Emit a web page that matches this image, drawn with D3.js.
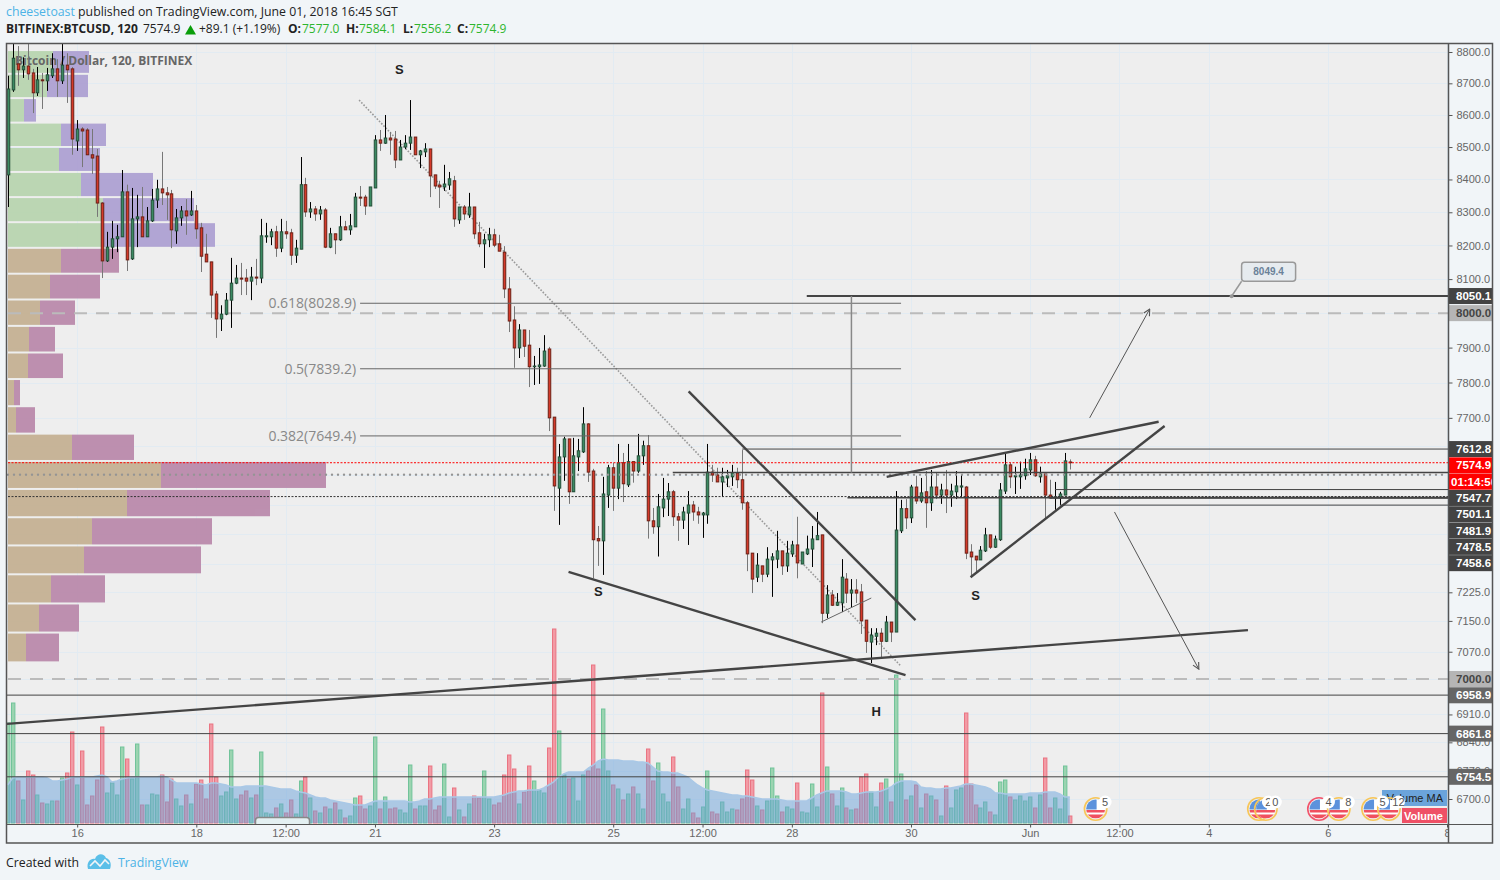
<!DOCTYPE html>
<html>
<head>
<meta charset="utf-8">
<title>BTCUSD</title>
<script src="https://cdn.jsdelivr.net/npm/d3@7"></script>
<style>
  html, body { margin: 0; padding: 0; background: #f1f5f8; }
  svg { display: block; }
  text { font-family: "Liberation Sans", Arial, sans-serif; }
  .head text, .foot text { font-family: "Open Sans", sans-serif; font-size: 12px; }
  .head .top, .foot text { font-size: 12.3px; }
  .axis path { display: none; }
  .axis line { stroke: #555; }
  .axis text { fill: #666; font-size: 11px; }
</style>
</head>
<body>
<svg width="1500" height="880"></svg>
<script>
// two hour candles, first one is May 14 20:00
var opens = [8414,8679,8762,8743,8755,8733,8670,8711,8708,8724,
  8746,8708,8758,8746,8519,8556,8553,8476,8472,8328,
  8154,8195,8220,8226,8362,8160,8280,8286,8226,8274,
  8337,8371,8359,8356,8244,8283,8304,8292,8304,8253,
  8174,8151,8056,7983,7997,8038,8088,8103,8103,8094,
  8106,8103,8226,8226,8241,8192,8241,8238,8171,8189,
  8384,8301,8310,8295,8307,8195,8235,8217,8256,8247,
  8256,8346,8346,8319,8374,8522,8512,8528,8525,8460,
  8500,8512,8531,8476,8485,8494,8414,8383,8377,8383,
  8396,8277,8316,8292,8316,8238,8205,8217,8232,8205,
  8180,8071,7980,7899,7951,7907,7845,7845,7847,7896,
  7702,7505,7591,7641,7495,7591,7605,7683,7552,7368,
  7362,7486,7561,7505,7575,7514,7578,7552,7594,7622,
  7416,7400,7451,7475,7495,7427,7418,7437,7459,7440,
  7432,7432,7549,7541,7522,7533,7536,7547,7528,7465,
  7329,7265,7295,7273,7311,7313,7335,7295,7327,7351,
  7300,7327,7340,7365,7378,7170,7218,7191,7197,7260,
  7223,7231,7226,7152,7095,7110,7118,7097,7147,7121,
  7389,7449,7424,7508,7470,7495,7465,7508,7486,7500,
  7486,7495,7508,7508,7332,7321,7311,7335,7378,7345,
  7365,7497,7569,7536,7536,7539,7555,7583,7536,7544,
  7486,7478,7478,7486,7577];
var closes = [8682,8780,8743,8755,8730,8670,8711,8708,8727,8746,
  8708,8758,8743,8525,8556,8550,8476,8466,8328,8154,
  8195,8220,8226,8362,8157,8280,8286,8226,8274,8337,
  8371,8359,8353,8247,8283,8304,8289,8304,8250,8168,
  8151,8053,7983,7997,8038,8088,8103,8100,8094,8106,
  8103,8229,8229,8241,8192,8241,8235,8171,8192,8384,
  8301,8310,8295,8307,8195,8235,8217,8256,8247,8259,
  8346,8343,8319,8377,8522,8512,8528,8522,8460,8500,
  8512,8531,8476,8488,8494,8411,8380,8377,8386,8402,
  8280,8316,8295,8316,8235,8205,8217,8232,8201,8183,
  8071,7977,7899,7951,7904,7845,7847,7850,7890,7700,
  7511,7591,7641,7495,7594,7608,7683,7549,7365,7362,
  7489,7561,7505,7575,7517,7578,7552,7594,7622,7416,
  7400,7454,7475,7495,7427,7418,7440,7459,7440,7432,
  7437,7549,7541,7522,7536,7539,7547,7528,7465,7327,
  7260,7297,7273,7313,7319,7335,7295,7329,7351,7303,
  7332,7340,7367,7376,7170,7218,7191,7199,7265,7223,
  7231,7223,7150,7097,7113,7118,7097,7147,7121,7391,
  7449,7424,7508,7470,7492,7465,7508,7486,7500,7486,
  7497,7511,7511,7329,7319,7311,7337,7378,7345,7367,
  7500,7569,7536,7539,7541,7558,7583,7539,7544,7486,
  7478,7481,7489,7580,7574.9];
var highs = [8724,8826,8819,8783,8826,8746,8752,8733,8749,8796,
  8777,8826,8796,8752,8584,8562,8559,8556,8494,8331,
  8241,8274,8262,8429,8384,8374,8353,8377,8316,8371,
  8399,8485,8377,8368,8310,8319,8340,8365,8322,8268,
  8235,8151,8065,8023,8059,8163,8142,8148,8130,8136,
  8160,8280,8268,8250,8259,8280,8274,8250,8217,8469,
  8405,8331,8319,8319,8313,8253,8235,8289,8274,8295,
  8359,8380,8353,8377,8537,8553,8600,8547,8550,8522,
  8537,8647,8531,8491,8512,8494,8414,8396,8445,8423,
  8411,8316,8322,8359,8316,8271,8235,8253,8250,8232,
  8198,8106,8020,7968,7951,7951,7876,7899,7936,7902,
  7702,7627,7647,7641,7644,7641,7730,7685,7558,7402,
  7536,7569,7575,7627,7602,7627,7578,7655,7636,7652,
  7451,7489,7533,7519,7500,7437,7454,7497,7470,7454,
  7440,7627,7569,7561,7561,7555,7569,7561,7610,7470,
  7329,7329,7295,7345,7329,7389,7335,7362,7362,7427,
  7332,7376,7402,7440,7378,7244,7231,7223,7313,7276,
  7260,7260,7247,7152,7131,7131,7131,7163,7147,7497,
  7473,7475,7514,7539,7533,7552,7555,7549,7517,7555,
  7517,7552,7541,7511,7353,7321,7348,7397,7378,7376,
  7519,7599,7575,7564,7578,7586,7602,7594,7564,7544,
  7528,7522,7495,7602,7584.1];
var lows = [8316,8673,8692,8717,8711,8606,8660,8619,8676,8717,
  8657,8698,8638,8476,8488,8438,8476,8417,8286,8103,
  8151,8160,8180,8226,8124,8157,8195,8226,8226,8271,
  8313,8322,8277,8192,8205,8259,8232,8289,8220,8121,
  8151,7986,7928,7948,7994,7957,8085,8053,8053,8038,
  8082,8088,8208,8201,8166,8180,8220,8142,8148,8189,
  8286,8283,8274,8277,8192,8192,8174,8214,8247,8232,
  8256,8319,8292,8319,8374,8488,8510,8476,8435,8460,
  8494,8491,8476,8435,8469,8346,8371,8313,8365,8368,
  8256,8265,8277,8283,8220,8195,8133,8195,8195,8183,
  8044,7945,7842,7870,7873,7787,7793,7796,7845,7663,
  7443,7405,7525,7462,7495,7552,7602,7522,7262,7295,
  7271,7451,7443,7475,7467,7508,7520,7547,7569,7368,
  7381,7320,7426,7429,7402,7362,7394,7351,7416,7408,
  7370,7408,7522,7522,7481,7508,7511,7505,7446,7281,
  7223,7252,7252,7265,7213,7289,7271,7279,7319,7262,
  7300,7324,7292,7365,7144,7157,7189,7189,7173,7197,
  7186,7197,7116,7067,7041,7087,7054,7095,7095,7121,
  7383,7394,7410,7462,7465,7397,7443,7475,7462,7437,
  7454,7475,7481,7313,7268,7279,7311,7332,7340,7343,
  7362,7489,7505,7489,7503,7528,7541,7536,7520,7421,
  7478,7446,7459,7486,7556.2];
var volumes = [100,120,42,23,52,48,28,20,19,22,
  22,45,50,91,38,72,18,27,43,96,
  30,40,28,76,64,44,79,18,18,29,
  28,48,21,44,24,17,28,19,39,43,
  24,99,46,27,31,73,24,28,32,25,
  28,71,10,9,15,19,10,23,9,42,
  46,25,12,10,16,14,20,13,5,7,
  25,27,14,17,86,14,26,14,15,13,
  10,58,14,17,17,57,13,17,59,6,
  35,13,6,19,27,25,52,24,18,20,
  48,68,54,19,31,57,42,33,30,75,
  194,92,48,44,45,22,48,52,158,54,
  114,52,38,34,23,29,36,29,14,74,
  42,60,29,21,66,36,14,24,10,5,
  16,52,11,9,21,11,14,13,24,53,
  43,17,13,22,55,27,11,16,14,40,
  11,10,39,16,130,56,29,17,35,15,
  13,14,46,49,31,16,40,44,21,148,
  49,23,27,38,15,29,27,23,7,37,
  15,33,35,110,39,18,15,21,11,8,
  41,43,26,23,27,22,26,15,28,65,
  15,25,14,57,7];
var volumeMA = [38,45,46,46,46,46,46,46,45,42,
  42,43,44,46,46,46,46,46,47,48,
  46,41,42,44,45,46,46,46,46,46,
  46,47,46,43,40,40,40,40,40,39,
  38,40,40,39,38,36,36,36,37,37,
  37,37,37,36,35,34,34,34,32,31,
  30,28,26,25,25,23,22,21,20,19,
  18,18,18,20,22,22,22,22,22,22,
  22,21,21,22,24,24,25,26,26,26,
  26,26,26,26,26,26,26,26,26,27,
  28,30,31,32,32,33,33,33,35,38,
  41,46,49,51,51,51,51,55,58,62,
  64,63,63,63,62,62,62,61,61,60,
  56,52,51,51,50,50,48,46,42,38,
  35,33,32,31,30,29,28,28,27,27,
  26,25,24,24,24,24,23,22,22,22,
  22,22,25,28,30,32,32,32,32,31,
  29,29,30,31,31,31,32,34,36,40,
  42,42,42,41,36,35,35,34,34,35,
  35,36,37,39,39,38,37,36,34,30,
  30,29,29,29,29,29,30,30,30,31,
  31,31,29,26,26];

// volume profile rows on the left
var profileLevels = [8803,8727,8650,8573,8497,8420,8343,8267,8190,8113,8037,7960,
  7883,7807,7730,7653,7577,7500,7423,7347,7270,7193,7117,7040];
var profileUp = [45,39,16,53,51,73,95,93,53,42,32,21,20,6,8,64,153,119,84,76,43,31,18];
var profileTotal = [81,80,28,98,92,145,186,207,111,92,67,47,55,12,27,126,318,262,204,193,97,71,51];

var priceTicks = [8800,8700,8600,8500,8400,8300,8200,8100,8000,7900,7800,7700,7620,7540,
  7460,7380,7300,7225,7150,7070,7000,6910,6840,6770,6700];
// these sit fully under the price tags in the picture
var coveredTicks = [7620,7540,7460,7380,7300,7000,8000];
var timeTicks = [Date.UTC(2018,4,16),Date.UTC(2018,4,18),Date.UTC(2018,4,19,12),Date.UTC(2018,4,21),
  Date.UTC(2018,4,23),Date.UTC(2018,4,25),Date.UTC(2018,4,26,12),Date.UTC(2018,4,28),Date.UTC(2018,4,30),
  Date.UTC(2018,5,1),Date.UTC(2018,5,2,12),Date.UTC(2018,5,4),Date.UTC(2018,5,6),Date.UTC(2018,5,8)];
var timeLabels = ['16','18','12:00','21','23','25','12:00','28','30','Jun','12:00','4','6','8'];

// drawn lines: [from candle, from price, to candle, to price]
var trendLines = [
  [-0.3,6886,249.9,7126],
  [137.2,7775,182.9,7152],
  [113,7279,180.9,7010],
  [177.1,7536,231.9,7689],
  [194,7265,233.1,7677]
];
var thinTrend = [163.9,7147,174,7210];
var dottedTrend = [70.8,8647,179.9,7034];
var arrowLines = [
  [218,7700,230.1,8012],
  [223,7440,240,7025]
];
var fibLevels = [0.618,0.5,0.382];
var fibPrices = [8028.9,7839.2,7649.4];
var fibFrom = 71, fibTo = 180;

// horizontal lines: [from candle, price, width]
var levelLines = [
  [161,8050.1,2],
  [148,7612.8,1],
  [134,7547.7,1.5],
  [211,7501.1,1],
  [169.2,7478.5,1.5],
  [210,7478.5,2],
  [212,7458.6,1],
  [-1,6958.9,1],
  [-1,6861.8,1],
  [-1,6754.5,1]
];
var marks = [[78.9,8730,'S'],[119,7214,'S'],[195,7205,'S'],[175,6905,'H']];

var eventCandles = [219.2,252.1,253.5,264.2,268.2,275.1,278.3];
var eventCounts = ['5','2','0','4','8','5','12'];
var eventAlert = [false,false,false,true,false,false,false];

var tags = [
  {value:8050.1, bg:'#434343', fg:'#fff'},
  {value:8000.0, bg:'#b5b5b5', fg:'#444'},
  {value:7612.8, bg:'#434343', fg:'#fff'},
  {value:7574.9, bg:'#f00', fg:'#fff'},
  {value:7574.9, bg:'#f00', fg:'#fff', text:'01:14:50'},
  {value:7547.7, bg:'#434343', fg:'#fff'},
  {value:7501.1, bg:'#434343', fg:'#fff'},
  {value:7481.9, bg:'#434343', fg:'#fff'},
  {value:7478.5, bg:'#434343', fg:'#fff'},
  {value:7458.6, bg:'#434343', fg:'#fff'},
  {value:7000.0, bg:'#b5b5b5', fg:'#444'},
  {value:6958.9, bg:'#666', fg:'#fff'},
  {value:6861.8, bg:'#666', fg:'#fff'},
  {value:6754.5, bg:'#666', fg:'#fff'}
];

var HOUR = 3600000;
var firstCandle = Date.UTC(2018,4,14,20);
function candleTime(i) { return new Date(firstCandle + i * 2 * HOUR); }

var paneLeft = 7, paneRight = 1448, paneTop = 44, paneBottom = 824;

var x = d3.scaleUtc().domain([candleTime(0), new Date(Date.UTC(2018,5,8))]).range([7.7, 1447]);
var y = d3.scaleLog().domain([8800, 6700]).range([52, 799]);
var volY = d3.scaleLinear().domain([0, 194]).range([823, 629]);
var profileX = d3.scaleLinear().domain([0, 318]).range([8, 326]);

var cx = function (i) { return x(candleTime(i)); };

var candles = opens.map(function (o, i) {
  return {i: i, o: o, c: closes[i], h: highs[i], l: lows[i], v: volumes[i], ma: volumeMA[i]};
});

var svg = d3.select('svg');
var defs = svg.append('defs');
defs.append('clipPath').attr('id', 'pane').append('rect')
  .attr('x', paneLeft).attr('y', paneTop).attr('width', paneRight - paneLeft).attr('height', paneBottom - paneTop);
defs.append('clipPath').attr('id', 'timeclip').append('rect')
  .attr('x', paneLeft).attr('y', paneBottom).attr('width', paneRight - paneLeft).attr('height', 20);
defs.append('clipPath').attr('id', 'tagclip').append('rect')
  .attr('x', 1449).attr('y', paneTop).attr('width', 44).attr('height', 800);
defs.append('clipPath').attr('id', 'flag').append('circle').attr('r', 9.5);

// pane background
svg.append('rect').attr('x', paneLeft).attr('y', paneTop)
  .attr('width', paneRight - paneLeft).attr('height', paneBottom - paneTop).attr('fill', '#eeeeee');

var pane = svg.append('g').attr('clip-path', 'url(#pane)');

// grid
pane.append('g').selectAll('line').data(timeTicks).enter().append('line')
  .attr('x1', function (d) { return Math.round(x(d)) + 0.5; })
  .attr('x2', function (d) { return Math.round(x(d)) + 0.5; })
  .attr('y1', paneTop).attr('y2', paneBottom)
  .attr('stroke', '#e2ebf2');
pane.append('g').selectAll('line').data(priceTicks).enter().append('line')
  .attr('y1', function (d) { return Math.round(y(d)) + 0.5; })
  .attr('y2', function (d) { return Math.round(y(d)) + 0.5; })
  .attr('x1', paneLeft).attr('x2', paneRight)
  .attr('stroke', '#e2ebf2');

// volume profile
var rows = profileUp.map(function (u, k) {
  return {top: profileLevels[k], bottom: profileLevels[k + 1], up: u, total: profileTotal[k], k: k};
});
var rowGroup = pane.append('g').attr('opacity', 0.92);
rowGroup.selectAll('.total').data(rows).enter().append('rect')
  .attr('x', function (d) { return profileX(d.up); })
  .attr('width', function (d) { return profileX(d.total) - profileX(d.up); })
  .attr('y', function (d) { return y(d.top); })
  .attr('height', function (d) { return y(d.bottom) - y(d.top) - 2; })
  .attr('fill', function (d) { return d.k < 8 ? '#ac9fd2' : '#b988aa'; });
rowGroup.selectAll('.up').data(rows).enter().append('rect')
  .attr('x', profileX(0))
  .attr('width', function (d) { return profileX(d.up) - profileX(0); })
  .attr('y', function (d) { return y(d.top); })
  .attr('height', function (d) { return y(d.bottom) - y(d.top) - 2; })
  .attr('fill', function (d) { return d.k < 8 ? '#b7d5ae' : '#c4b091'; });

// pane title
pane.append('text').attr('x', 15).attr('y', 65)
  .attr('font-size', 12).attr('font-weight', 'bold').attr('fill', '#666')
  .attr('style', 'font-family:"Open Sans",sans-serif')
  .text('Bitcoin / Dollar, 120, BITFINEX');

// volume bars, the MA area goes over them
pane.append('g').selectAll('rect').data(candles).enter().append('rect')
  .attr('x', function (d) { return Math.round(cx(d.i)) - 1.5; })
  .attr('width', 3.4)
  .attr('y', function (d) { return volY(d.v); })
  .attr('height', function (d) { return volY(0) - volY(d.v); })
  .attr('fill', function (d) { return d.c >= d.o ? '#9bd4b0' : '#f29ba5'; })
  .attr('stroke', function (d) { return d.c >= d.o ? '#71c39a' : '#ea7482'; });

var maArea = d3.area()
  .x(function (d) { return cx(d.i); })
  .y0(volY(0))
  .y1(function (d) { return volY(d.ma); });
pane.append('path').datum(candles).attr('d', maArea)
  .attr('fill', 'rgb(106,162,218)').attr('fill-opacity', 0.5);
pane.append('path').datum(candles)
  .attr('d', d3.line().x(function (d) { return cx(d.i); }).y(function (d) { return volY(d.ma); }))
  .attr('fill', 'none').attr('stroke', '#a9c8e6').attr('stroke-width', 1.5);

// little time box under the volume
pane.append('rect').attr('x', 255.5).attr('y', 817.5).attr('width', 54).attr('height', 12).attr('rx', 3)
  .attr('fill', '#e4f0f2').attr('stroke', '#888').attr('stroke-width', 1.5);

// dashed round numbers
pane.append('g').selectAll('line').data([8000, 7000]).enter().append('line')
  .attr('x1', 8).attr('x2', paneRight)
  .attr('y1', function (d) { return y(d); }).attr('y2', function (d) { return y(d); })
  .attr('stroke', '#bbb').attr('stroke-width', 2).attr('stroke-dasharray', '13 9');

// dotted line under the candles
pane.append('line')
  .attr('x1', cx(dottedTrend[0])).attr('y1', y(dottedTrend[1]))
  .attr('x2', cx(dottedTrend[2])).attr('y2', y(dottedTrend[3]))
  .attr('stroke', '#999').attr('stroke-width', 1.6).attr('stroke-dasharray', '1.6 1.6');

// candles
var candle = pane.append('g').selectAll('g').data(candles).enter().append('g');
candle.append('line')
  .attr('x1', function (d) { return Math.round(cx(d.i)) + 0.5; })
  .attr('x2', function (d) { return Math.round(cx(d.i)) + 0.5; })
  .attr('y1', function (d) { return y(d.h); })
  .attr('y2', function (d) { return y(d.l); })
  .attr('stroke', function (d) { return d.c >= d.o ? '#000' : '#777'; });
candle.append('rect')
  .attr('x', function (d) { return Math.round(cx(d.i)) - 0.75; })
  .attr('width', 2.5)
  .attr('y', function (d) { return y(Math.max(d.o, d.c)); })
  .attr('height', function (d) { return Math.max(0.6, Math.abs(y(d.o) - y(d.c))); })
  .attr('fill', function (d) { return d.c >= d.o ? '#3b8a62' : '#d5392a'; })
  .attr('stroke', function (d) { return d.c >= d.o ? '#234f38' : '#6e2015'; });

// fib levels
var fibs = fibPrices.map(function (p, k) { return {p: p, level: fibLevels[k]}; });
pane.append('g').selectAll('line').data(fibs).enter().append('line')
  .attr('x1', cx(fibFrom)).attr('x2', cx(fibTo))
  .attr('y1', function (d) { return y(d.p); }).attr('y2', function (d) { return y(d.p); })
  .attr('stroke', '#666');
pane.append('g').selectAll('text').data(fibs).enter().append('text')
  .attr('x', cx(fibFrom) - 4)
  .attr('y', function (d) { return y(d.p) + 5; })
  .attr('text-anchor', 'end').attr('font-size', 14).attr('fill', '#888')
  .attr('style', 'font-family:"Open Sans",sans-serif')
  .text(function (d) { return d.level + '(' + d.p.toFixed(1) + ')'; });

// price levels
pane.append('g').selectAll('line').data(levelLines).enter().append('line')
  .attr('x1', function (d) { return cx(d[0]); }).attr('x2', paneRight)
  .attr('y1', function (d) { return y(d[1]); }).attr('y2', function (d) { return y(d[1]); })
  .attr('stroke', '#444').attr('stroke-width', function (d) { return d[2]; });

pane.append('line').attr('x1', 8).attr('x2', paneRight)
  .attr('y1', y(7542)).attr('y2', y(7542))
  .attr('stroke', '#949494').attr('stroke-width', 2.4).attr('stroke-linecap', 'round').attr('stroke-dasharray', '0 6');
pane.append('line').attr('x1', 8).attr('x2', paneRight)
  .attr('y1', y(7574.9)).attr('y2', y(7574.9))
  .attr('stroke', '#f00').attr('stroke-dasharray', '2 1.5');
pane.append('line').attr('x1', 8).attr('x2', paneRight)
  .attr('y1', y(7481.9)).attr('y2', y(7481.9))
  .attr('stroke', '#333').attr('stroke-dasharray', '2 1.5');

// measure line from the neckline to the target
pane.append('line').attr('x1', cx(170)).attr('x2', cx(170))
  .attr('y1', y(8050.1)).attr('y2', y(7547.7))
  .attr('stroke', '#888').attr('stroke-width', 1.5);

// trend lines
pane.append('g').selectAll('line').data(trendLines).enter().append('line')
  .attr('x1', function (d) { return cx(d[0]); }).attr('y1', function (d) { return y(d[1]); })
  .attr('x2', function (d) { return cx(d[2]); }).attr('y2', function (d) { return y(d[3]); })
  .attr('stroke', '#444').attr('stroke-width', 2.4);
pane.append('line')
  .attr('x1', cx(thinTrend[0])).attr('y1', y(thinTrend[1]))
  .attr('x2', cx(thinTrend[2])).attr('y2', y(thinTrend[3]))
  .attr('stroke', '#666');

// arrows
defs.append('marker').attr('id', 'head').attr('viewBox', '0 0 10 10')
  .attr('refX', 9).attr('refY', 5).attr('markerWidth', 8).attr('markerHeight', 8)
  .attr('markerUnits', 'userSpaceOnUse').attr('orient', 'auto')
  .append('path').attr('d', 'M1,1 L9,5 L1,9').attr('fill', 'none').attr('stroke', '#555').attr('stroke-width', 1.4);
pane.append('g').selectAll('line').data(arrowLines).enter().append('line')
  .attr('x1', function (d) { return cx(d[0]); }).attr('y1', function (d) { return y(d[1]); })
  .attr('x2', function (d) { return cx(d[2]); }).attr('y2', function (d) { return y(d[3]); })
  .attr('stroke', '#555').attr('marker-end', 'url(#head)');

// S H S letters
pane.append('g').selectAll('text').data(marks).enter().append('text')
  .attr('x', function (d) { return cx(d[0]); })
  .attr('y', function (d) { return y(d[1]); })
  .attr('text-anchor', 'middle').attr('font-size', 13).attr('font-weight', 'bold').attr('fill', '#222')
  .text(function (d) { return d[2]; });

// callout on the target line
var callX = cx(246.6), callY = y(8049.4);
var callout = pane.append('g');
callout.append('line').attr('x1', callX).attr('y1', callY).attr('x2', callX + 10).attr('y2', callY - 15)
  .attr('stroke', '#999').attr('stroke-width', 1.5);
callout.append('circle').attr('cx', callX).attr('cy', callY).attr('r', 2).attr('fill', '#999');
callout.append('rect').attr('x', callX + 10).attr('y', callY - 34).attr('width', 54).attr('height', 19).attr('rx', 3)
  .attr('fill', '#e6ebef').attr('stroke', '#999').attr('stroke-width', 1.5);
callout.append('text').attr('x', callX + 37).attr('y', callY - 21).attr('text-anchor', 'middle')
  .attr('font-size', 10).attr('font-weight', 'bold').attr('fill', '#6b8299').text('8049.4');

// volume legend boxes
pane.append('rect').attr('x', 1382).attr('y', 790).attr('width', 65).attr('height', 16).attr('fill', '#6ba4db');
pane.append('text').attr('x', 1443).attr('y', 802).attr('text-anchor', 'end').attr('font-size', 11).attr('fill', '#222').text('Volume MA');
pane.append('rect').attr('x', 1402).attr('y', 808).attr('width', 45).attr('height', 15).attr('fill', '#ef5066');
pane.append('text').attr('x', 1443).attr('y', 820).attr('text-anchor', 'end').attr('font-size', 11).attr('font-weight', 'bold').attr('fill', '#fff').text('Volume');

// events, the count bubbles go on top of all the flags
var events = eventCandles.map(function (c, k) {
  return {c: c, n: eventCounts[k], alert: eventAlert[k]};
});
var flagRing = pane.append('g').selectAll('g').data(events).enter().append('g')
  .attr('transform', function (d) { return 'translate(' + cx(d.c) + ',809)'; });
flagRing.append('circle').attr('r', 11.2).attr('fill', 'none')
  .attr('stroke', function (d) { return d.alert ? '#f2556c' : '#f7c659'; }).attr('stroke-width', 1.6);
var flagBody = flagRing.append('g').attr('clip-path', 'url(#flag)');
flagBody.append('rect').attr('x', -10).attr('y', -10).attr('width', 20).attr('height', 20).attr('fill', '#fff');
flagBody.append('rect').attr('x', -10).attr('y', 1).attr('width', 20).attr('height', 2.5).attr('fill', '#f0505f');
flagBody.append('rect').attr('x', -10).attr('y', 5.5).attr('width', 20).attr('height', 4).attr('fill', '#f0505f');
flagBody.append('rect').attr('x', -10).attr('y', -10).attr('width', 11).attr('height', 10.5).attr('fill', '#5c92dc');
var bubble = pane.append('g').selectAll('g').data(events).enter().append('g')
  .attr('transform', function (d) { return 'translate(' + (cx(d.c) + 9.5) + ',802)'; });
bubble.append('circle').attr('r', 6.5).attr('fill', '#fff');
bubble.append('text').attr('y', 4).attr('text-anchor', 'middle')
  .attr('font-size', 11).attr('fill', '#555').text(function (d) { return d.n; });

// axes
var priceAxis = d3.axisRight(y).tickValues(priceTicks).tickSize(4).tickPadding(4)
  .tickFormat(function (d) { return coveredTicks.indexOf(d) >= 0 ? '' : d3.format('.1f')(d); });
svg.append('g').attr('class', 'axis').attr('transform', 'translate(' + (paneRight + 0.5) + ',0)').call(priceAxis);

var timeAxis = d3.axisBottom(x).tickValues(timeTicks).tickSize(3).tickPadding(2)
  .tickFormat(function (d, i) { return timeLabels[i]; });
svg.append('g').attr('clip-path', 'url(#timeclip)')
  .append('g').attr('class', 'axis').attr('transform', 'translate(0,' + (paneBottom + 0.5) + ')').call(timeAxis);

// price tags, pushed down when they would overlap
var tagGroup = svg.append('g').attr('clip-path', 'url(#tagclip)');
var lastTag = -100;
tags.forEach(function (t) {
  var ty = Math.max(y(t.value), lastTag + 16.3);
  lastTag = ty;
  tagGroup.append('rect').attr('x', 1449).attr('y', ty - 8).attr('width', 44).attr('height', 16).attr('fill', t.bg);
  tagGroup.append('text').attr('x', 1456).attr('y', ty + 4).attr('font-size', 11.5).attr('font-weight', 'bold')
    .attr('fill', t.fg).text(t.text || t.value.toFixed(1))
    .attr('dx', t.text ? -5 : 0);
});

// frames
svg.append('rect').attr('x', 6.5).attr('y', 43.5).attr('width', 1486).attr('height', 799.5)
  .attr('fill', 'none').attr('stroke', '#555').attr('stroke-width', 1.5);
svg.append('line').attr('x1', 6).attr('x2', 1493).attr('y1', paneBottom + 0.5).attr('y2', paneBottom + 0.5)
  .attr('stroke', '#555').attr('stroke-width', 1);
svg.append('line').attr('x1', paneRight + 0.5).attr('x2', paneRight + 0.5).attr('y1', 44).attr('y2', 843)
  .attr('stroke', '#555').attr('stroke-width', 1.5);

// header
var head = svg.append('g').attr('class', 'head');
var line1 = head.append('text').attr('class', 'top').attr('x', 6).attr('y', 16);
line1.append('tspan').attr('fill', '#4db3e6').text('cheesetoast');
line1.append('tspan').attr('fill', '#222').text(' published on TradingView.com, June 01, 2018 16:45 SGT');

var headBold = [[6,'BITFINEX:BTCUSD, 120'],[288,'O:'],[346,'H:'],[403,'L:'],[457,'C:']];
var headPlain = [[143,'7574.9'],[199,'+89.1 (+1.19%)']];
var headValues = [[302,'7577.0'],[359,'7584.1'],[414,'7556.2'],[469,'7574.9']];
head.selectAll('.b').data(headBold).enter().append('text')
  .attr('x', function (d) { return d[0]; }).attr('y', 33)
  .attr('font-weight', 'bold').attr('fill', '#222').text(function (d) { return d[1]; });
head.selectAll('.p').data(headPlain).enter().append('text')
  .attr('x', function (d) { return d[0]; }).attr('y', 33)
  .attr('fill', '#222').text(function (d) { return d[1]; });
head.selectAll('.v').data(headValues).enter().append('text')
  .attr('x', function (d) { return d[0]; }).attr('y', 33)
  .attr('fill', '#2eb52e').text(function (d) { return d[1]; });
head.append('path').attr('d', 'M185,34.5 L190.5,25 L196,34.5 Z').attr('fill', '#0a9e0a');

// footer
var foot = svg.append('g').attr('class', 'foot');
foot.append('text').attr('x', 6).attr('y', 867).attr('fill', '#222').text('Created with');
foot.append('path')
  .attr('d', 'M88,869 C86,862 91,858 95,859 C97,853 104,853 106,858 C110,859 112,864 110,869 Z')
  .attr('fill', '#5bbfe8');
foot.append('path').attr('d', 'M90,866 L95,861 L100,866 L105,860 L109,864')
  .attr('fill', 'none').attr('stroke', '#f1f5f8').attr('stroke-width', 1.6);
foot.append('text').attr('x', 118).attr('y', 867).attr('fill', '#4db3e6').text('TradingView');
</script>
</body>
</html>
